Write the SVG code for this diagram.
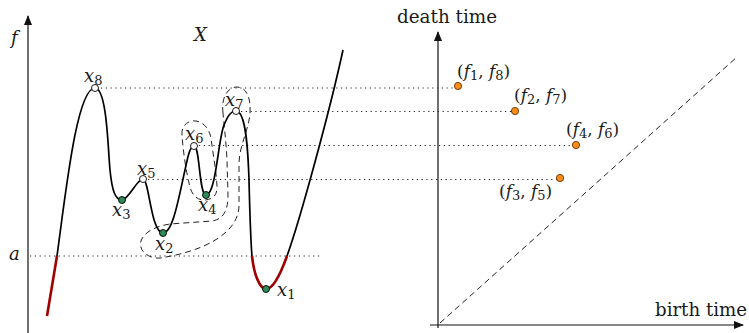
<svg xmlns="http://www.w3.org/2000/svg" width="749" height="333" viewBox="0 0 749 333" font-family="'DejaVu Serif', serif">
<style>
text{font-family:"DejaVu Serif","Liberation Serif",serif;fill:#1a1a1a}
.m{font-style:italic}
.lbl{font-size:18px}
.sub{font-size:13px;font-style:normal}
.dot{stroke:#222;stroke-width:1.1;stroke-dasharray:1.2 3.6;fill:none}
.dash{stroke:#222;stroke-width:1;stroke-dasharray:6 4;fill:none}
.curve{stroke:#000;stroke-width:1.7;fill:none}
.red{stroke:#a00000;stroke-width:2.6;fill:none}
.axis{stroke:#111;stroke-width:1.2;fill:none}
.crit{fill:#2e8b57;stroke:#000;stroke-width:0.9}
.open{fill:#fff;stroke:#000;stroke-width:0.9}
.pd{fill:#ff8c1a;stroke:#5a3000;stroke-width:0.9}
</style>
<defs>
<marker id="arr" viewBox="0 0 10 8" refX="9" refY="4" markerWidth="10" markerHeight="8" markerUnits="userSpaceOnUse" orient="auto">
<path d="M0,0 L10,4 L0,8 Z" fill="#111"/>
</marker>
</defs>

<g id="axes">
<line class="axis" x1="28" y1="333" x2="28" y2="16" marker-end="url(#arr)"/>
<line class="axis" x1="438" y1="328" x2="438" y2="32" marker-end="url(#arr)"/>
<line class="axis" x1="430" y1="325" x2="743" y2="325" marker-end="url(#arr)"/>
<line class="dash" x1="440" y1="323" x2="737" y2="57"/>
<text class="m lbl" x="11" y="44">f</text>
<text class="m lbl" x="9" y="260">a</text>
<text class="m lbl" x="194" y="41">X</text>
<text x="397" y="23" font-size="18" textLength="100" lengthAdjust="spacingAndGlyphs">death time</text>
<text x="655" y="316" font-size="18" textLength="92" lengthAdjust="spacingAndGlyphs">birth time</text>
</g>

<g id="connectors">
<line class="dot" x1="101" y1="88" x2="455" y2="88"/>
<line class="dot" x1="241" y1="111.5" x2="512" y2="111.5"/>
<line class="dot" x1="199" y1="145.5" x2="572" y2="145.5"/>
<line class="dot" x1="148" y1="179.5" x2="557" y2="179.5"/>
<line class="dot" x1="30" y1="256" x2="320" y2="256"/>
</g>

<g id="neighborhoods">
<path class="dash" d="M182,135 C181,124 190,120 196,121 C203,122 209,128 211,138 C213,155 217,175 217,188 C217,197 210,200 204,200 C197,200 192,195 190,187 C186,172 183,150 182,135 Z"/>
<path class="dash" d="M223,113 C221,97 228,87 237,87 C246,87 251,97 250,113 C249,130 239,145 239,165 L239,205 C239,235 200,252 160,258 C148,259 138,250 141,241 C144,232 156,226 170,224 L212,221 C224,219 228,210 228,195 L227,160 C226,140 224,125 223,113 Z"/>
</g>

<g id="graph">
<path class="red" d="M47,316 L57,256"/>
<path class="curve" d="M57,256 C66,190 77,88 95,88 C107,88 108,150 110,170 C112,190 115,200 122,200 C129,199 137,179 143,179 C149,179 151,233 163,233 C173,233 179,196 185,170 C188,156 190,146 194,146 C200,146 199,195 206,195 C216,195 218,140 224,125 C227,118 230,111 236,111 C246,111 248,150 249,180 C250,220 251,245 252,256"/>
<path class="red" d="M252,256 C254,275 260,289 266,289 C274,289 282,270 287,256"/>
<path class="curve" d="M287,256 C300,220 330,110 343,50"/>
</g>

<g id="x8"><circle class="open" cx="95" cy="88" r="3.5"/><text class="m lbl" x="84" y="82">x<tspan class="sub" dy="3">8</tspan></text></g>
<g id="x7"><circle class="open" cx="236" cy="111" r="3.5"/><text class="m lbl" x="225" y="106">x<tspan class="sub" dy="3">7</tspan></text></g>
<g id="x6"><circle class="open" cx="194" cy="146" r="3.5"/><text class="m lbl" x="185" y="140">x<tspan class="sub" dy="3">6</tspan></text></g>
<g id="x5"><circle class="open" cx="143" cy="179" r="3.5"/><text class="m lbl" x="137" y="175">x<tspan class="sub" dy="3">5</tspan></text></g>
<g id="x4"><circle class="crit" cx="206" cy="195" r="3.5"/><text class="m lbl" x="198" y="211">x<tspan class="sub" dy="3">4</tspan></text></g>
<g id="x3"><circle class="crit" cx="122" cy="200" r="3.5"/><text class="m lbl" x="112" y="216">x<tspan class="sub" dy="3">3</tspan></text></g>
<g id="x2"><circle class="crit" cx="163" cy="233" r="3.5"/><text class="m lbl" x="155" y="250">x<tspan class="sub" dy="3">2</tspan></text></g>
<g id="x1"><circle class="crit" cx="266" cy="289" r="3.5"/><text class="m lbl" x="277" y="296">x<tspan class="sub" dy="3">1</tspan></text></g>

<g id="p18"><circle class="pd" cx="458" cy="86" r="3.6"/><text font-size="17" x="457" y="77">(<tspan class="m">f</tspan><tspan class="sub" dy="3">1</tspan><tspan dy="-3">, </tspan><tspan class="m">f</tspan><tspan class="sub" dy="3">8</tspan><tspan dy="-3">)</tspan></text></g>
<g id="p27"><circle class="pd" cx="515" cy="111" r="3.6"/><text font-size="17" x="514" y="101">(<tspan class="m">f</tspan><tspan class="sub" dy="3">2</tspan><tspan dy="-3">, </tspan><tspan class="m">f</tspan><tspan class="sub" dy="3">7</tspan><tspan dy="-3">)</tspan></text></g>
<g id="p46"><circle class="pd" cx="576" cy="145" r="3.6"/><text font-size="17" x="566" y="135">(<tspan class="m">f</tspan><tspan class="sub" dy="3">4</tspan><tspan dy="-3">, </tspan><tspan class="m">f</tspan><tspan class="sub" dy="3">6</tspan><tspan dy="-3">)</tspan></text></g>
<g id="p35"><circle class="pd" cx="560" cy="178" r="3.6"/><text font-size="17" x="499" y="197">(<tspan class="m">f</tspan><tspan class="sub" dy="3">3</tspan><tspan dy="-3">, </tspan><tspan class="m">f</tspan><tspan class="sub" dy="3">5</tspan><tspan dy="-3">)</tspan></text></g>
</svg>
